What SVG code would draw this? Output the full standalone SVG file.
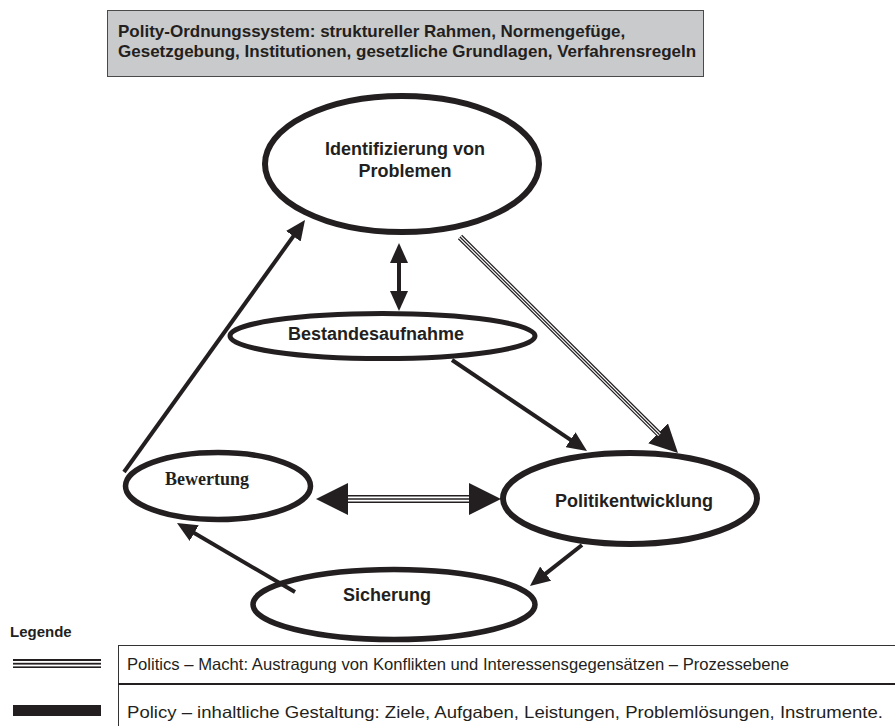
<svg xmlns="http://www.w3.org/2000/svg" width="895" height="726" viewBox="0 0 895 726">
<style>
.node{fill:#fff;stroke:#231f20}
.lbl{font-family:"Liberation Sans",Arial,sans-serif;font-weight:bold;font-size:18px;fill:#231f20;text-anchor:middle}
.lblserif{font-family:"Liberation Serif","Times New Roman",serif;font-weight:bold;font-size:18px;fill:#231f20;text-anchor:middle}
.conn{fill:none;stroke:#231f20;stroke-width:4}
.polo{fill:none;stroke:#231f20}
.poli{fill:none;stroke:#fff}
.legtxt{font-family:"Liberation Sans",Arial,sans-serif;font-size:16.5px;fill:#231f20}
.head{fill:#231f20}
</style>
<defs>
<marker id="ah" viewBox="0 0 20 18" refX="2" refY="9" markerWidth="20" markerHeight="18" markerUnits="userSpaceOnUse" orient="auto-start-reverse">
<path d="M0,0 L20,9 L0,18 z" class="head"/>
</marker>
<marker id="ahBig" viewBox="0 0 32 32" refX="1" refY="16" markerWidth="32" markerHeight="32" markerUnits="userSpaceOnUse" orient="auto-start-reverse">
<path d="M0,0 L32,16 L0,32 z" class="head"/>
</marker>
<marker id="ahMid" viewBox="0 0 28 28" refX="2" refY="14" markerWidth="28" markerHeight="28" markerUnits="userSpaceOnUse" orient="auto">
<path d="M0,0 L28,14 L0,28 z" class="head"/>
</marker>
</defs>
<rect width="895" height="726" fill="#fff"/>

<g id="polity-box">
<rect x="107.5" y="10.5" width="596" height="66" fill="#c9cacb" stroke="#4a4a4a" stroke-width="1"/>
<text x="118" y="37" font-family="Liberation Sans, Arial, sans-serif" font-weight="bold" font-size="17" fill="#231f20">Polity-Ordnungssystem: struktureller Rahmen, Normengefüge,</text>
<text x="118" y="57" font-family="Liberation Sans, Arial, sans-serif" font-weight="bold" font-size="17" fill="#231f20">Gesetzgebung, Institutionen, gesetzliche Grundlagen, Verfahrensregeln</text>
</g>

<g id="node-identifizierung">
<ellipse class="node" cx="402" cy="164" rx="137" ry="68" stroke-width="6"/>
<text class="lbl" x="405" y="155">Identifizierung von</text>
<text class="lbl" x="405" y="177">Problemen</text>
</g>
<g id="node-bestandesaufnahme">
<ellipse class="node" cx="382.5" cy="336" rx="152.5" ry="22.5" stroke-width="5"/>
<text class="lbl" x="376" y="340">Bestandesaufnahme</text>
</g>
<g id="node-bewertung">
<ellipse class="node" cx="218" cy="486" rx="92.5" ry="33.5" stroke-width="5.5"/>
<text class="lblserif" x="207" y="485">Bewertung</text>
</g>
<g id="node-politikentwicklung">
<ellipse class="node" cx="630" cy="498.5" rx="127" ry="45.5" stroke-width="6"/>
<text class="lbl" x="634" y="507">Politikentwicklung</text>
</g>
<g id="node-sicherung">
<ellipse class="node" cx="394" cy="604.5" rx="141" ry="35" stroke-width="5.5"/>
<text class="lbl" x="387" y="601">Sicherung</text>
</g>

<g id="connectors">
<!-- Policy (solid) -->
<path class="conn" d="M124,472 L294.5,234.6" marker-end="url(#ah)"/>
<path class="conn" d="M452,360 L572.1,440.9" marker-end="url(#ah)"/>
<path class="conn" d="M582,545 L544.1,574.9" marker-end="url(#ah)"/>
<path class="conn" d="M295,592 L192.5,532.1" marker-end="url(#ah)"/>
<path class="conn" stroke-width="5" d="M399,261 L399,293" marker-start="url(#ah)" marker-end="url(#ah)"/>
<!-- Politics (triple line) -->
<path class="polo" stroke-width="6" d="M460,237 L659.5,434.7" marker-end="url(#ahMid)"/>
<path class="poli" stroke-width="3.6" d="M460,237 L659.5,434.7"/>
<path class="polo" stroke-width="1.2" d="M460,237 L659.5,434.7"/>
<path class="polo" stroke-width="8" d="M347,499 L470,499" marker-start="url(#ahBig)" marker-end="url(#ahBig)"/>
<path class="poli" stroke-width="5" d="M348,499 L469,499"/>
<path class="polo" stroke-width="1.6" d="M348,499 L469,499"/>
</g>

<g id="legend">
<text x="10" y="637" font-family="Liberation Sans, Arial, sans-serif" font-weight="bold" font-size="15" fill="#231f20">Legende</text>
<rect x="13" y="659" width="88" height="9" fill="#231f20"/>
<rect x="13" y="661" width="88" height="1.8" fill="#fff"/>
<rect x="13" y="664.6" width="88" height="1.8" fill="#fff"/>
<rect x="13" y="705" width="88" height="11" fill="#231f20"/>
<path d="M118.5,645.5 H895 M118.5,645 V726" fill="none" stroke="#333" stroke-width="1"/>
<path d="M118,684 H895" fill="none" stroke="#231f20" stroke-width="2.2"/>
<text class="legtxt" x="127" y="670" textLength="662" lengthAdjust="spacingAndGlyphs">Politics – Macht: Austragung von Konflikten und Interessensgegensätzen – Prozessebene</text>
<text class="legtxt" x="127" y="718" textLength="756" lengthAdjust="spacingAndGlyphs">Policy – inhaltliche Gestaltung: Ziele, Aufgaben, Leistungen, Problemlösungen, Instrumente.</text>
</g>
</svg>
